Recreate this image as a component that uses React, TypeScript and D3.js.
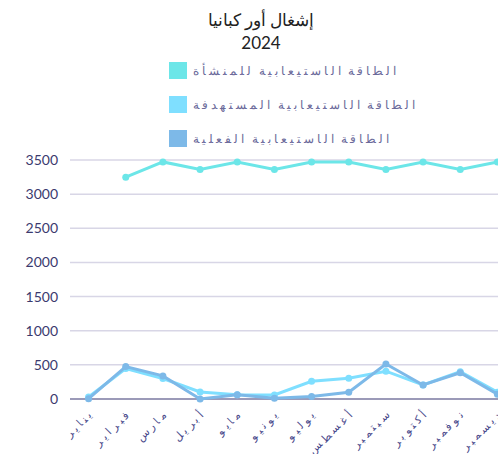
import React from "react";
import * as d3 from "d3";

const months = ["يناير", "فبراير", "مارس", "أبريل", "مايو", "يونيو", "يوليو", "أغسطس", "سبتمبر", "أكتوبر", "نوفمبر", "ديسمبر"];
const facilityCapacity: (number | null)[] = [null, 3248, 3472, 3360, 3472, 3360, 3472, 3472, 3360, 3472, 3360, 3472];
const targetCapacity: number[] = [30, 445, 300, 103, 63, 60, 260, 304, 407, 206, 400, 100];
const actualCapacity: number[] = [5, 475, 338, 0, 63, 10, 35, 98, 512, 206, 385, 70];
const seriesNames = ["الطاقة الاستيعابية للمنشأة", "الطاقة الاستيعابية المستهدفة", "الطاقة الاستيعابية الفعلية"];
const seriesColors = ["#6ce6e8", "#7fdfff", "#7db9e8"];
const yTicks = [0, 500, 1000, 1500, 2000, 2500, 3000, 3500];

const nonJoinLeft = new Set("اأإآدذرزوؤةءى".split(""));
function spaced(s: string, gap: string, wordGap: string): string {
  const chars = Array.from(s);
  let out = "";
  chars.forEach((c, i) => {
    if (c === " ") {
      out += wordGap;
      return;
    }
    out += c;
    if (i < chars.length - 1) {
      const next = chars[i + 1];
      if (next === " ") return;
      if (nonJoinLeft.has(c)) out += gap;
      else out += "\u200D" + gap + "\u200D";
    }
  });
  return out;
}

export default function App() {
  const W = 498, H = 454;
  const x = d3.scalePoint<string>().domain(months).range([70, 516]).padding(0.5);
  const y = d3.scaleLinear().domain([0, 3500]).range([399, 160]);
  const line = d3.line<[string, number | null]>()
    .defined((d) => d[1] != null)
    .x((d) => x(d[0]) as number)
    .y((d) => y(d[1] as number));
  const series = [facilityCapacity, targetCapacity, actualCapacity];
  const font = "Lato, 'Noto Sans', sans-serif";
  return (
    <svg width={W} height={H} style={{ position: "absolute", left: 0, top: 0 }} fontFamily={font}>
      <rect width={W} height={H} fill="#fff" />
      <text x={261} y={26} textAnchor="middle" fontSize={17} fill="#222">إشغال أور كبانيا</text>
      <text x={261} y={49} textAnchor="middle" fontSize={17} fill="#222">2024</text>
      {seriesNames.map((n, i) => (
        <g key={n}>
          <rect x={169} y={62 + i * 34} width={18} height={17} fill={seriesColors[i]} />
          <text x={193} y={75 + i * 34} fontSize={12} fill="#6b6a9a" textAnchor="start">
            {spaced(n, "\u2005", "\u2002\u2009")}
          </text>
        </g>
      ))}
      {yTicks.map((t) => (
        <g key={t}>
          <line x1={70} x2={W} y1={y(t)} y2={y(t)} stroke={t === 0 ? "#7a78a0" : "#d8d6e6"} strokeWidth={1.5} />
          <text x={58} y={y(t) + 5} textAnchor="end" fontSize={14} fill="#3b3a6e">{t}</text>
        </g>
      ))}
      {months.map((m) => {
        const px = (x(m) as number) + 4;
        return (
          <text key={m} transform={`translate(${px},416) rotate(-45)`} textAnchor="end" fontSize={11} fill="#4b4a8c">
            {spaced(m, "\u2005\u200A", " ")}
          </text>
        );
      })}
      {series.map((s, i) => {
        const data = months.map((m, j) => [m, s[j]] as [string, number | null]);
        return (
          <g key={i}>
            <path d={line(data) || ""} fill="none" stroke={seriesColors[i]} strokeWidth={3} />
            {data.filter((d) => d[1] != null).map((d) => (
              <circle key={d[0]} cx={x(d[0]) as number} cy={y(d[1] as number)} r={3.5} fill={seriesColors[i]} />
            ))}
          </g>
        );
      })}
    </svg>
  );
}
